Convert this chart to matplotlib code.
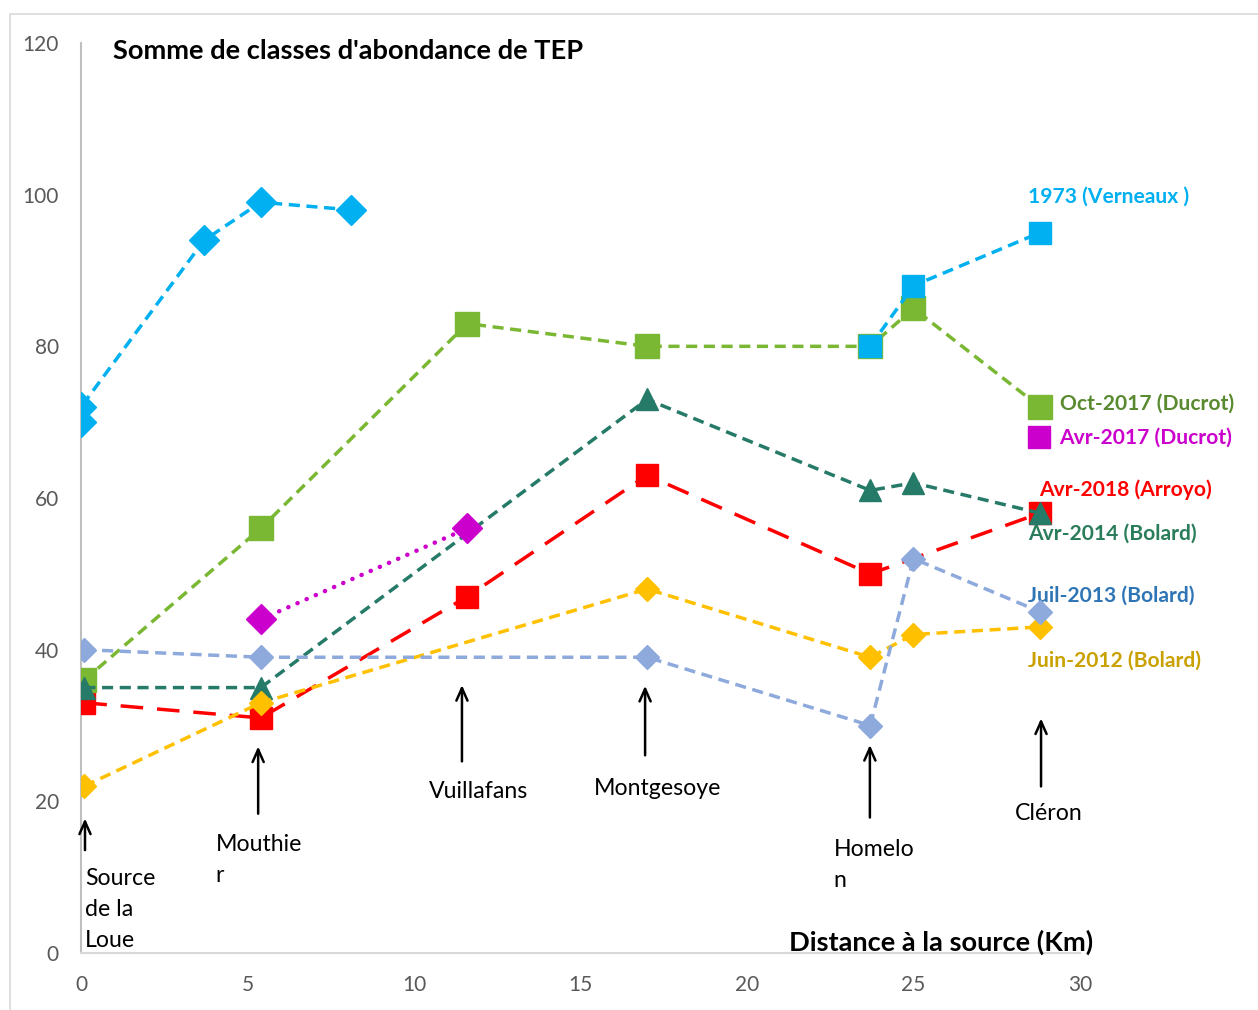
import numpy as np
import matplotlib.pyplot as plt
from matplotlib.patches import Rectangle
from matplotlib.lines import Line2D

plt.rcParams['font.family'] = ['Lato', 'DejaVu Sans']

# donnees (distance a la source en km, somme des classes d'abondance)
x_sites = [0.1, 5.4, 11.6, 17.0, 23.7, 25.0, 28.8]

x_1973a = [0.0, 0.0, 3.7, 5.4, 8.1]
y_1973a = [70, 72, 94, 99, 98]
x_1973b = [23.7, 25.0, 28.8]
y_1973b = [80, 88, 95]

y_oct2017 = [36, 56, 83, 80, 80, 85, 72]

x_avr2017 = [5.4, 11.6]
y_avr2017 = [44, 56]

x_avr2018 = [0.1, 5.4, 11.6, 17.0, 23.7, 28.8]
y_avr2018 = [33, 31, 47, 63, 50, 58]

x_bolard = [0.1, 5.4, 17.0, 23.7, 25.0, 28.8]
y_avr2014 = [35, 35, 73, 61, 62, 58]
y_juil2013 = [40, 39, 39, 30, 52, 45]
y_juin2012 = [22, 33, 48, 39, 42, 43]

# sites (fleches)
sites = ["Source\nde la\nLoue", "Mouthie\nr", "Vuillafans", "Montgesoye", "Homelo\nn", "Cléron"]
fl_x = [0.12, 5.32, 11.44, 16.94, 23.69, 28.83]
fl_bas = [13.2, 18.0, 24.9, 25.7, 17.5, 21.6]
fl_haut = [18.1, 27.6, 35.7, 35.6, 27.8, 31.3]

cyan = "#00B0F0"
vert = "#7AB733"
teal = "#267A68"
rouge = "#FF0000"
bleu = "#8EA9DB"
jaune = "#FFC000"
magenta = "#CC00CC"

fig = plt.figure(figsize=(12.58, 10.10), dpi=100)
ax = fig.add_axes([81/1258, 1-953/1010, (1080-81)/1258, (953-43)/1010])

fig.patches.append(Rectangle((10/1258, -0.01), 1.0, 1-14/1010+0.01, transform=fig.transFigure,
                             fill=False, edgecolor="#D9D9D9", lw=1.2))

lw = 2.5
tiret = (0, (3.2, 1.9))
ax.plot(x_avr2018, y_avr2018, color=rouge, lw=lw, ls=(0, (6.5, 4.0)), marker="s", ms=15.5, zorder=3)
ax.plot(x_sites, y_oct2017, color=vert, lw=lw, ls=tiret, marker="s", ms=17.5, zorder=4)
ax.plot(x_bolard, y_avr2014, color=teal, lw=lw, ls=tiret, marker="^", ms=16, zorder=5)
ax.plot(x_bolard, y_juin2012, color=jaune, lw=lw, ls=tiret, marker="D", ms=12.5, zorder=6)
ax.plot(x_bolard, y_juil2013, color=bleu, lw=lw, ls=tiret, marker="D", ms=12.5, zorder=6)
ax.plot(x_1973a, y_1973a, color=cyan, lw=lw, ls=tiret, marker="D", ms=15.5, zorder=7)
ax.plot(x_1973b, y_1973b, color=cyan, lw=lw, ls=tiret, marker="s", ms=15.5, zorder=7)
ax.plot(x_avr2017, y_avr2017, color=magenta, lw=3.2, ls=(0, (0.05, 2.2)), dash_capstyle="round",
        marker="D", ms=15, zorder=8)

ax.set_xlim(0, 30)
ax.set_ylim(0, 120)
ax.set_xticks(np.arange(0, 31, 5))
ax.set_yticks(np.arange(0, 121, 20))
for s in ["top", "right"]:
    ax.spines[s].set_visible(False)
ax.spines["left"].set_color("#BFBFBF")
ax.spines["bottom"].set_color("#D9D9D9")
ax.spines["left"].set_linewidth(1.5)
ax.spines["bottom"].set_linewidth(1.5)
ax.tick_params(length=0, labelsize=15, labelcolor="#595959")
ax.tick_params(axis="y", pad=16)
ax.tick_params(axis="x", pad=16)

# fleches et noms des sites
for nom, x, b, h in zip(sites, fl_x, fl_bas, fl_haut):
    ax.annotate("", xy=(x, h), xytext=(x, b),
                arrowprops=dict(arrowstyle="->,head_length=0.9,head_width=0.4", color="black", lw=1.8))

txt = dict(fontsize=16.7, color="black", linespacing=1.6)
ax.text(0.12, 11.2, sites[0], ha="left", va="top", **txt)
ax.text(4.05, 15.7, sites[1], ha="left", va="top", **txt)
ax.text(11.95, 21.3, sites[2], ha="center", va="center", **txt)
ax.text(17.3, 21.7, sites[3], ha="center", va="center", **txt)
ax.text(22.6, 15.0, sites[4], ha="left", va="top", **txt)
ax.text(29.05, 18.4, sites[5], ha="center", va="center", **txt)

# etiquettes des series
lab = dict(fontsize=15.1, fontweight="bold", va="center", ha="left")
ax.text(28.44, 99.8, "1973 (Verneaux )", color=cyan, **lab)
ax.text(29.4, 72.5, "Oct-2017 (Ducrot)", color="#5A8A30", **lab)
ax.text(28.77, 61.1, "Avr-2018 (Arroyo)", color=rouge, **lab)
ax.text(28.44, 55.3, "Avr-2014 (Bolard)", color="#2A7D5A", **lab)
ax.text(28.44, 47.1, "Juil-2013 (Bolard)", color="#2E75B6", **lab)
ax.text(28.44, 38.6, "Juin-2012 (Bolard)", color="#C9A100", **lab)

cle = Line2D([], [], color=magenta, marker="s", ls="none", ms=15.5)
leg = ax.legend([cle], ["Avr-2017 (Ducrot)"], loc="center left", bbox_to_anchor=(1031/1258, 1-438/1010),
                bbox_transform=fig.transFigure, frameon=False, handlelength=0.8, handletextpad=0.55,
                borderpad=0, borderaxespad=0, prop=dict(size=15.1, weight="bold"))
for t in leg.get_texts():
    t.set_color(magenta)

fig.text(113/1258, 1-51/1010, "Somme de classes d'abondance de TEP", fontsize=19.6,
         fontweight="bold", ha="left", va="center")
fig.text(1093/1258, 1-942/1010, "Distance à la source (Km)", fontsize=19.6,
         fontweight="bold", ha="right", va="center")

fig.savefig("out.png", dpi=100)
